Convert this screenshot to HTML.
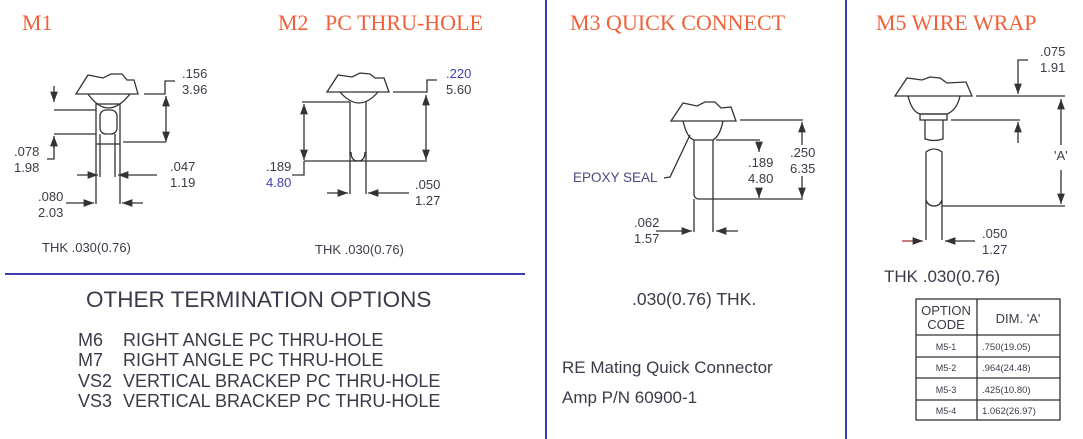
<!DOCTYPE html>
<html><head><meta charset="utf-8"><style>
body{margin:0;background:#fff}
svg{display:block}
text{font-family:"Liberation Sans",sans-serif;fill:#3a3a4a}
.t{font-family:"Liberation Serif",serif;fill:#f0603a;font-size:22px}
.s{font-size:13px}
.m{font-size:17px}
.l{font-size:18px}
line,path,polyline,rect{stroke:#333;stroke-width:1.3;fill:none}
.ar{fill:#333;stroke:none}
</style></head><body>
<svg width="1083" height="439" viewBox="0 0 1083 439">
<defs><marker id="a" markerWidth="8" markerHeight="6" refX="8" refY="3" orient="auto"><path d="M0,0 L8,3 L0,6z" class="ar"/></marker></defs>
<line x1="546" y1="0" x2="546" y2="439" style="stroke:#3c3cb0;stroke-width:2"/>
<line x1="846" y1="0" x2="846" y2="439" style="stroke:#3c3cb0;stroke-width:2"/>
<line x1="5" y1="274" x2="525" y2="274" style="stroke:#3c3cb0;stroke-width:2"/>
<text class="t" x="22" y="30">M1</text>
<text class="t" x="278" y="30">M2 &#160;&#160;PC THRU-HOLE</text>
<text class="t" x="570" y="30">M3 QUICK CONNECT</text>
<text class="t" x="876" y="30">M5 WIRE WRAP</text>

<!-- M1 -->
<path d="M76,94 L88,75 L103,78 L111,74 L122,74 L127,80 L134,80 L138,94 Z"/>
<path d="M88,94 Q108,122 130,94"/>
<rect x="96" y="104" width="24" height="40"/>
<rect x="100" y="110" width="17" height="24" rx="6"/>
<line x1="100" y1="134" x2="100" y2="177"/><line x1="115" y1="134" x2="115" y2="177"/>
<line x1="96" y1="144" x2="96" y2="204"/><line x1="120" y1="144" x2="120" y2="204"/>
<polyline points="144,94 165,94 165,81 175,81"/>
<line x1="166" y1="104" x2="166" y2="96" marker-end="url(#a)"/>
<line x1="166" y1="104" x2="166" y2="134"/>
<line x1="166" y1="134" x2="166" y2="142" marker-end="url(#a)"/>
<line x1="123" y1="142" x2="166" y2="142"/>
<line x1="54" y1="86" x2="54" y2="102" marker-end="url(#a)"/>
<line x1="54" y1="110" x2="96" y2="110"/><line x1="54" y1="134" x2="96" y2="134"/>
<line x1="54" y1="148" x2="54" y2="136" marker-end="url(#a)"/>
<polyline points="54,146 54,159 47,159"/>
<line x1="77" y1="175" x2="98" y2="175" marker-end="url(#a)"/>
<line x1="157" y1="175" x2="118" y2="175" marker-end="url(#a)"/>
<line x1="66" y1="203" x2="94" y2="203" marker-end="url(#a)"/>
<line x1="143" y1="203" x2="122" y2="203" marker-end="url(#a)"/>
<text class="s" x="182" y="78">.156</text><text class="s" x="182" y="94">3.96</text>
<text class="s" x="14" y="156">.078</text><text class="s" x="14" y="172">1.98</text>
<text class="s" x="170" y="171">.047</text><text class="s" x="170" y="187">1.19</text>
<text class="s" x="38" y="201">.080</text><text class="s" x="38" y="217">2.03</text>
<text class="s" x="42" y="252">THK .030(0.76)</text>

<!-- M2 -->
<path d="M327,92 L338,75 L352,77 L360,73 L370,74 L375,78 L384,78 L389,92 Z"/>
<path d="M340,92 Q359,114 378,92"/>
<line x1="350" y1="102" x2="350" y2="194"/><line x1="366" y1="102" x2="366" y2="194"/>
<path d="M351,152 Q351,161 358,161 Q365,161 365,152"/>
<line x1="302" y1="102" x2="350" y2="102"/>
<line x1="304" y1="112" x2="304" y2="104" marker-end="url(#a)"/>
<line x1="304" y1="112" x2="304" y2="150"/>
<line x1="304" y1="150" x2="304" y2="160" marker-end="url(#a)"/>
<line x1="304" y1="161" x2="427" y2="161"/>
<polyline points="304,161 304,175 292,175"/>
<polyline points="393,92 427,92 427,80 437,80"/>
<line x1="426" y1="104" x2="426" y2="95" marker-end="url(#a)"/>
<line x1="426" y1="104" x2="426" y2="150"/>
<line x1="426" y1="150" x2="426" y2="160" marker-end="url(#a)"/>
<line x1="327" y1="193" x2="348" y2="193" marker-end="url(#a)"/>
<line x1="409" y1="193" x2="368" y2="193" marker-end="url(#a)"/>
<text class="s" x="446" y="78" style="fill:#4040b0">.220</text><text class="s" x="446" y="94">5.60</text>
<text class="s" x="266" y="171">.189</text><text class="s" x="266" y="187" style="fill:#4040b0">4.80</text>
<text class="s" x="415" y="189">.050</text><text class="s" x="415" y="205">1.27</text>
<text class="s" x="315" y="254">THK .030(0.76)</text>

<text x="86" y="307" style="font-size:22.5px">OTHER TERMINATION OPTIONS</text>
<text x="78" y="346" class="l">M6</text><text x="123" y="346" class="l">RIGHT ANGLE PC THRU-HOLE</text>
<text x="78" y="366" class="l">M7</text><text x="123" y="366" class="l">RIGHT ANGLE PC THRU-HOLE</text>
<text x="78" y="387" class="l">VS2</text><text x="123" y="387" class="l">VERTICAL BRACKEP PC THRU-HOLE</text>
<text x="78" y="407" class="l">VS3</text><text x="123" y="407" class="l">VERTICAL BRACKEP PC THRU-HOLE</text>

<!-- M3 -->
<path d="M671,121 L683,103 L697,106 L705,102 L715,102 L721,108 L731,107 L736,121 Z"/>
<path d="M683,121 Q687,138 694,140 L713,140 Q720,136 723,121"/>
<line x1="694" y1="140" x2="694" y2="195"/><path d="M694,195 Q695,199 699,199 L713,199"/>
<line x1="713" y1="140" x2="713" y2="232"/><line x1="694" y1="199" x2="694" y2="232"/>
<line x1="740" y1="120" x2="803" y2="120"/>
<line x1="716" y1="140" x2="760" y2="140"/>
<line x1="713" y1="199" x2="803" y2="199"/>
<line x1="759" y1="143" x2="759" y2="152" marker-end="url(#a)"/>
<line x1="759" y1="188" x2="759" y2="198" marker-end="url(#a)"/>
<line x1="802" y1="133" x2="802" y2="122" marker-end="url(#a)"/>
<line x1="802" y1="133" x2="802" y2="145"/>
<line x1="802" y1="176" x2="802" y2="198" marker-end="url(#a)"/>
<line x1="656" y1="231" x2="692" y2="231" marker-end="url(#a)"/>
<line x1="738" y1="231" x2="716" y2="231" marker-end="url(#a)"/>
<polyline points="664,178 670,177 690,135"/>
<text x="573" y="182" style="font-size:13.5px;fill:#4a4a80">EPOXY SEAL</text>
<text class="s" x="748" y="167">.189</text><text class="s" x="748" y="183">4.80</text>
<text class="s" x="790" y="157">.250</text><text class="s" x="790" y="173">6.35</text>
<text class="s" x="634" y="227">.062</text><text class="s" x="634" y="243">1.57</text>
<text x="632" y="305" style="font-size:17.5px">.030(0.76) THK.</text>
<text class="m" x="562" y="373">RE Mating Quick Connector</text>
<text class="m" x="562" y="403">Amp P/N 60900-1</text>

<!-- M5 -->
<path d="M895,96 L907,78 L922,80 L930,77 L940,78 L947,83 L966,82 L972,96 Z"/>
<path d="M908,96 Q912,112 920,114 L947,114 Q957,110 960,96"/>
<rect x="920" y="114" width="27" height="6"/>
<path d="M925,120 L925,139 Q934,142 943,139 L943,120"/>
<path d="M926,240 L926,152 Q934,146 942,152 L942,240"/>
<path d="M926,200 Q928,206 934,206 Q940,206 942,200"/>
<line x1="976" y1="96" x2="1065" y2="96"/>
<line x1="951" y1="120" x2="1020" y2="120"/>
<line x1="942" y1="206" x2="1065" y2="206"/>
<polyline points="1028,60 1018,60 1018,86"/>
<line x1="1018" y1="84" x2="1018" y2="94" marker-end="url(#a)"/>
<line x1="1018" y1="143" x2="1018" y2="122" marker-end="url(#a)"/>
<line x1="1061" y1="110" x2="1061" y2="99" marker-end="url(#a)"/>
<line x1="1061" y1="110" x2="1061" y2="145"/>
<line x1="1061" y1="170" x2="1061" y2="204" marker-end="url(#a)"/>
<text class="s" x="1054" y="160">'A'</text>
<text class="s" x="1040" y="56">.075</text><text class="s" x="1040" y="72">1.91</text>
<line x1="902" y1="241" x2="923" y2="241" marker-end="url(#a)" style="stroke:#a03030"/>
<line x1="975" y1="241" x2="945" y2="241" marker-end="url(#a)"/>
<text class="s" x="982" y="238">.050</text><text class="s" x="982" y="254">1.27</text>
<text class="m" x="884" y="282">THK .030(0.76)</text>

<rect x="916" y="299" width="144" height="121"/>
<line x1="977" y1="299" x2="977" y2="420"/>
<line x1="916" y1="335" x2="1060" y2="335"/>
<line x1="916" y1="357" x2="1060" y2="357"/>
<line x1="916" y1="378" x2="1060" y2="378"/>
<line x1="916" y1="400" x2="1060" y2="400"/>
<text class="s" x="946" y="315" text-anchor="middle">OPTION</text>
<text class="s" x="946" y="329" text-anchor="middle">CODE</text>
<text class="s" x="1018" y="323" text-anchor="middle">DIM. 'A'</text>
<text x="946" y="350" text-anchor="middle" style="font-size:9px">M5-1</text><text x="982" y="350" style="font-size:9.5px">.750(19.05)</text>
<text x="946" y="371" text-anchor="middle" style="font-size:9px">M5-2</text><text x="982" y="371" style="font-size:9.5px">.964(24.48)</text>
<text x="946" y="393" text-anchor="middle" style="font-size:9px">M5-3</text><text x="982" y="393" style="font-size:9.5px">.425(10.80)</text>
<text x="946" y="414" text-anchor="middle" style="font-size:9px">M5-4</text><text x="982" y="414" style="font-size:9.5px">1.062(26.97)</text>
</svg>
</body></html>
